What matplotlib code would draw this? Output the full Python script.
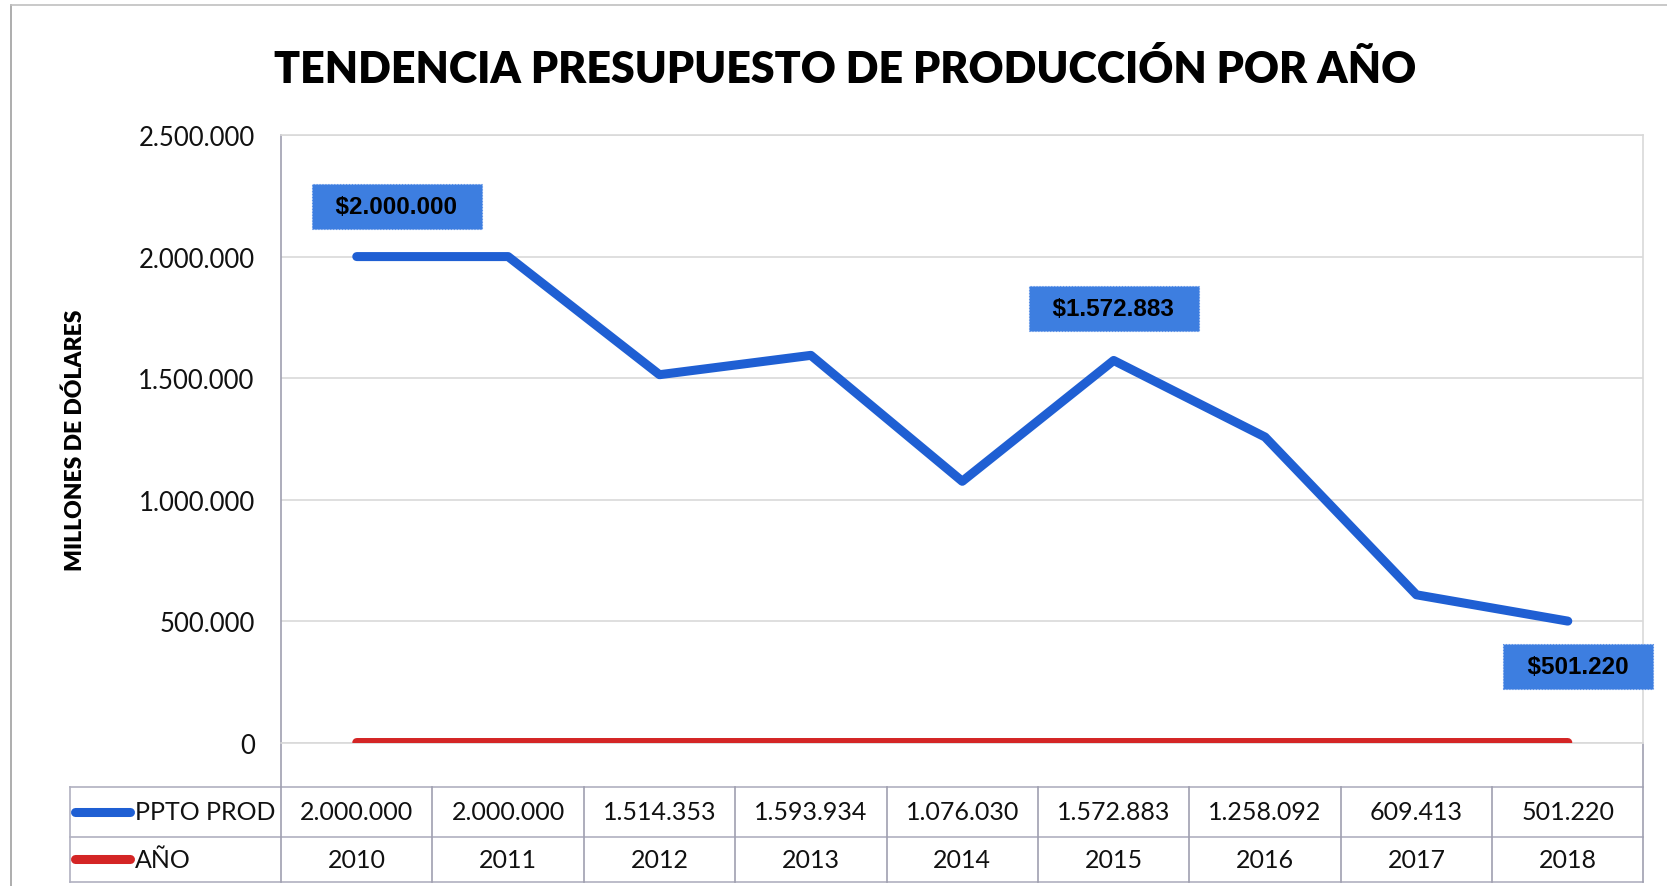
import matplotlib
matplotlib.use("Agg")
import matplotlib.pyplot as plt
from matplotlib.lines import Line2D

# data
years = [2010, 2011, 2012, 2013, 2014, 2015, 2016, 2017, 2018]
ppto_prod = [2000000, 2000000, 1514353, 1593934, 1076030, 1572883, 1258092, 609413, 501220]
labeled = {0: (40, 50), 5: (0, 52), 8: (10, -45)}  # index -> label offset (px)
y_ticks = [0, 500000, 1000000, 1500000, 2000000, 2500000]

BLUE = '#1f5fd3'
RED = '#d42525'
BOX = '#3d7ee0'
GRID = '#d9d9d9'
CAL = 'Lato'


def fmt(v):
    return f"{v:,.0f}".replace(',', '.')


fig = plt.figure(figsize=(16.67, 8.87), dpi=100)
ax = fig.add_axes([0.1686, 0.1612, 0.8173, 0.6855])

x = list(range(len(years)))
ax.plot(x, ppto_prod, color=BLUE, lw=6.5, solid_capstyle='round', solid_joinstyle='round', zorder=3)
ax.plot(x, years, color=RED, lw=6.5, solid_capstyle='round', zorder=3)

ax.set_xlim(-0.5, len(years) - 0.5)
ax.set_ylim(0, 2500000)
ax.set_yticks(y_ticks)
ax.set_yticklabels([fmt(v) for v in y_ticks], fontsize=18.5, family=CAL, color='#111111')
ax.set_xticks([])
ax.tick_params(axis='y', length=0, pad=19)
ax.grid(axis='y', color=GRID, lw=1.2)
ax.set_axisbelow(True)
for s in ax.spines.values():
    s.set_color(GRID)
    s.set_linewidth(1.2)
ax.spines['left'].set_color('#a0a0b0')

ax.set_ylabel('MILLONES DE DÓLARES', fontsize=16.5, fontweight='heavy', family=CAL, labelpad=38)

# data labels
for i, (dx, dy) in labeled.items():
    ax.annotate('  $' + fmt(ppto_prod[i]) + '  ', (x[i], ppto_prod[i]),
                xytext=(dx, dy), textcoords='offset pixels', ha='center', va='center',
                fontsize=17.5, fontweight='bold', family='Liberation Sans', color='black',
                bbox=dict(boxstyle='square,pad=0.45', fc=BOX, ec='#5a8fe6', lw=0.8, ls=':'),
                zorder=5)

fig.suptitle('TENDENCIA PRESUPUESTO DE PRODUCCIÓN POR AÑO', x=0.507, y=0.945,
             fontsize=31, fontweight='heavy', family=CAL)

# data table below the plot
tr = ax.get_xaxis_transform()
row_y = [-0.072, -0.154, -0.228]
left = -0.155
for yy in row_y:
    ax.add_line(Line2D([left, 1], [yy, yy], transform=ax.transAxes, color='#b0b0c0', lw=1.2, clip_on=False))
ax.add_line(Line2D([left, left], [row_y[0], row_y[2]], transform=ax.transAxes, color='#b0b0c0', lw=1.2, clip_on=False))
for b in range(len(years) + 1):
    top = 0 if b in (0, len(years)) else row_y[0]
    ax.add_line(Line2D([b - 0.5, b - 0.5], [top, row_y[2]], transform=tr, color='#a0a0b0', lw=1.2, clip_on=False))

mid1 = (row_y[0] + row_y[1]) / 2
mid2 = (row_y[1] + row_y[2]) / 2
for i in x:
    ax.text(i, mid1, fmt(ppto_prod[i]), transform=tr, ha='center', va='center', fontsize=18, family=CAL, color='#111111')
    ax.text(i, mid2, str(years[i]), transform=tr, ha='center', va='center', fontsize=18, family=CAL, color='#111111')

sw0, sw1 = left + 0.004, left + 0.044
ax.add_line(Line2D([sw0, sw1], [mid1, mid1], transform=ax.transAxes, color=BLUE, lw=6.5,
                   solid_capstyle='round', clip_on=False))
ax.add_line(Line2D([sw0, sw1], [mid2, mid2], transform=ax.transAxes, color=RED, lw=6.5,
                   solid_capstyle='round', clip_on=False))
ax.text(sw1 + 0.004, mid1, 'PPTO PROD', transform=ax.transAxes, ha='left', va='center', fontsize=18, family=CAL, color='#111111')
ax.text(sw1 + 0.004, mid2, 'AÑO', transform=ax.transAxes, ha='left', va='center', fontsize=18, family=CAL, color='#111111')

# chart area border (left and top edges visible)
fig.add_artist(Line2D([0.0066, 0.0066], [0.0, 0.993], transform=fig.transFigure, color='#a0a0a0', lw=1.2))
fig.add_artist(Line2D([0.0066, 1.0], [0.993, 0.993], transform=fig.transFigure, color='#c0c0c0', lw=1.2))

fig.savefig('out.png', dpi=100, facecolor='white')
